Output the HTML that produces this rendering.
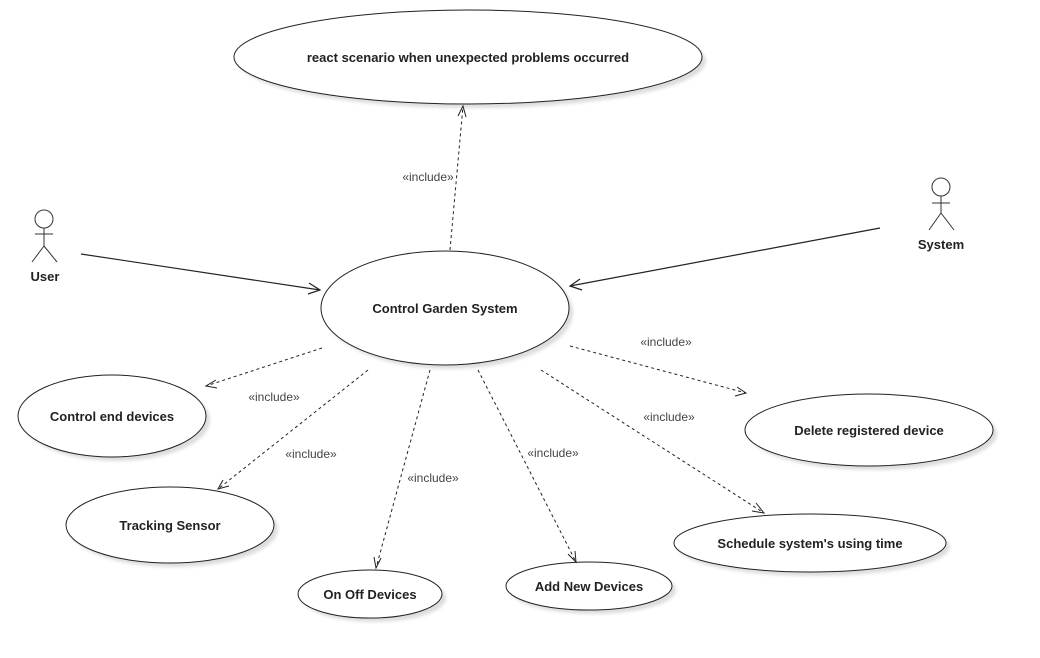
<!DOCTYPE html>
<html><head><meta charset="utf-8"><style>
html,body{margin:0;padding:0;background:#fff;}
svg{display:block;}
text{font-family:"Liberation Sans",Arial,sans-serif;}
.uc{font-size:13px;font-weight:bold;fill:#222;text-anchor:middle;}
.inc{font-size:12px;fill:#444;text-anchor:middle;}
</style></head><body>
<svg width="1040" height="658" viewBox="0 0 1040 658" xmlns="http://www.w3.org/2000/svg">
<defs><filter id="b"><feGaussianBlur stdDeviation="1.5"/></filter></defs>
<g fill="#ddd" filter="url(#b)">
<ellipse cx="472" cy="61" rx="234" ry="47"/>
<ellipse cx="449" cy="312" rx="124" ry="57"/>
<ellipse cx="116" cy="420" rx="94" ry="41"/>
<ellipse cx="174" cy="529" rx="104" ry="38"/>
<ellipse cx="374" cy="598" rx="72" ry="24"/>
<ellipse cx="593" cy="590" rx="83" ry="24"/>
<ellipse cx="814" cy="547" rx="136" ry="29"/>
<ellipse cx="873" cy="434" rx="124" ry="36"/>
</g>
<g fill="#fff" stroke="#222" stroke-width="1">
<ellipse cx="468" cy="57" rx="234" ry="47"/>
<ellipse cx="445" cy="308" rx="124" ry="57"/>
<ellipse cx="112" cy="416" rx="94" ry="41"/>
<ellipse cx="170" cy="525" rx="104" ry="38"/>
<ellipse cx="370" cy="594" rx="72" ry="24"/>
<ellipse cx="589" cy="586" rx="83" ry="24"/>
<ellipse cx="810" cy="543" rx="136" ry="29"/>
<ellipse cx="869" cy="430" rx="124" ry="36"/>
</g>
<text class="uc" x="468" y="62">react scenario when unexpected problems occurred</text>
<text class="uc" x="445" y="313">Control Garden System</text>
<text class="uc" x="112" y="421">Control end devices</text>
<text class="uc" x="170" y="530">Tracking Sensor</text>
<text class="uc" x="370" y="599">On Off Devices</text>
<text class="uc" x="589" y="591">Add New Devices</text>
<text class="uc" x="810" y="548">Schedule system's using time</text>
<text class="uc" x="869" y="435">Delete registered device</text>
<!-- actors -->
<g stroke="#333" fill="none" stroke-width="1">
<circle cx="44" cy="219" r="9" fill="#fff"/>
<line x1="44" y1="228" x2="44" y2="246"/><line x1="35" y1="234" x2="53" y2="234"/>
<line x1="44" y1="246" x2="32" y2="262"/><line x1="44" y1="246" x2="57" y2="262"/>
<circle cx="941" cy="187" r="9" fill="#fff"/>
<line x1="941" y1="196" x2="941" y2="213"/><line x1="932" y1="203" x2="950" y2="203"/>
<line x1="941" y1="213" x2="929" y2="230"/><line x1="941" y1="213" x2="954" y2="230"/>
</g>
<text class="uc" x="45" y="281">User</text>
<text class="uc" x="941" y="249">System</text>
<!-- solid associations -->
<g stroke="#222" fill="none" stroke-width="1.2">
<line x1="81" y1="254" x2="320" y2="290"/>
<polyline points="309,283 320,290 308,294"/>
<line x1="880" y1="228" x2="570" y2="286"/>
<polyline points="580,279 570,286 582,290"/>
</g>
<!-- dashed includes -->
<g stroke="#222" fill="none" stroke-width="1" stroke-dasharray="3,3">
<line x1="450" y1="250" x2="463" y2="106"/>
<line x1="322" y1="348" x2="206" y2="386"/>
<line x1="368" y1="370" x2="218" y2="489"/>
<line x1="430" y1="370" x2="376" y2="568"/>
<line x1="478" y1="370" x2="576" y2="562"/>
<line x1="541" y1="370" x2="764" y2="513"/>
<line x1="570" y1="346" x2="746" y2="393"/>
</g>
<g stroke="#222" fill="none" stroke-width="1">
<polyline points="458,116 463,106 466,117"/>
<polyline points="216,380 206,386 217,388"/>
<polyline points="223,480 218,489 229,486"/>
<polyline points="374,557 376,568 381,558"/>
<polyline points="568,554 576,562 575,551"/>
<polyline points="752,511 764,513 756,503"/>
<polyline points="735,396 746,393 737,387"/>
</g>
<text class="inc" x="428" y="181">«include»</text>
<text class="inc" x="274" y="401">«include»</text>
<text class="inc" x="311" y="458">«include»</text>
<text class="inc" x="433" y="482">«include»</text>
<text class="inc" x="553" y="457">«include»</text>
<text class="inc" x="669" y="421">«include»</text>
<text class="inc" x="666" y="346">«include»</text>
</svg>
</body></html>
